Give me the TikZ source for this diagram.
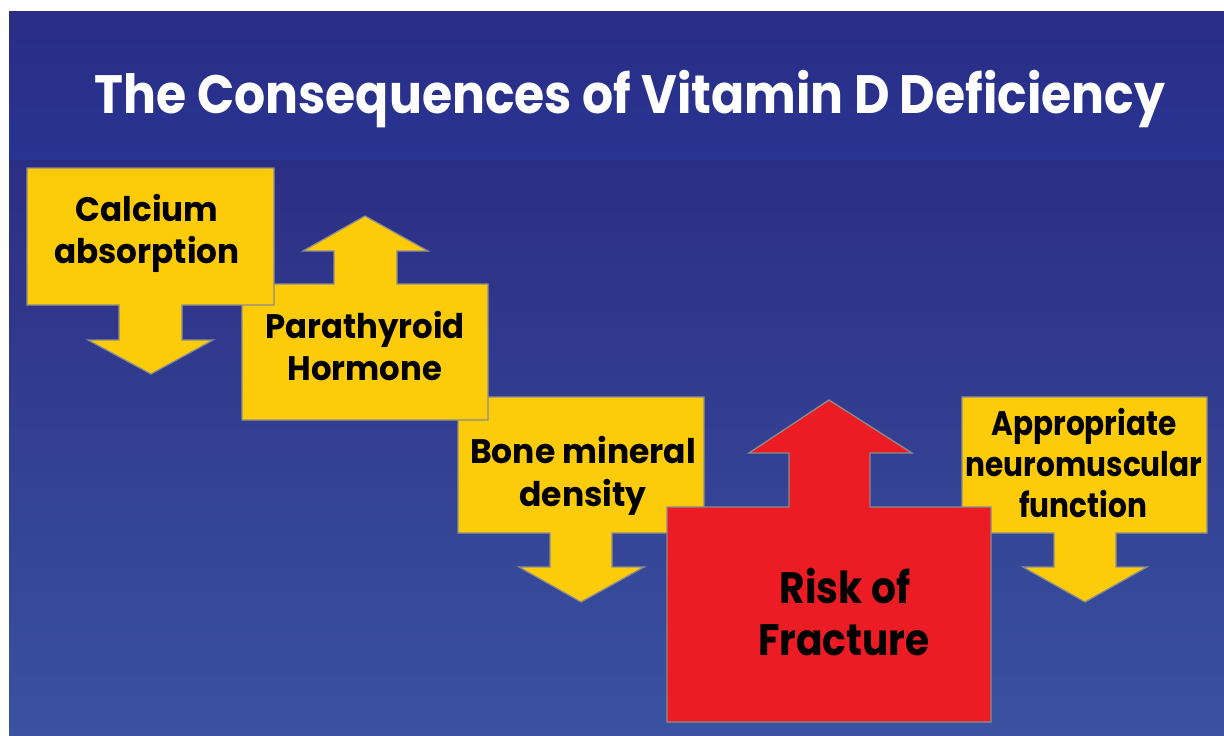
\documentclass[tikz,border=0pt]{standalone}
\usepackage{graphicx}
\usepackage{fontspec}
\newfontfamily\pop{Poppins}
\newcommand{\sxb}[2]{\scalebox{#1}[1]{#2}}
\definecolor{band}{RGB}{42,45,132}
\definecolor{bandlow}{RGB}{40,52,146}
\definecolor{bgtop}{RGB}{44,46,132}
\definecolor{bgbot}{RGB}{58,82,160}
\definecolor{boxyellow}{RGB}{252,203,10}
\definecolor{boxred}{RGB}{236,28,36}
\definecolor{edge}{RGB}{140,140,140}
\tikzset{
  ybox/.style={fill=boxyellow, draw=edge, line width=1.3pt, line join=miter},
  rbox/.style={fill=boxred, draw=edge, line width=1.3pt, line join=miter},
  lbl/.style={anchor=base, inner sep=0pt, font=\pop\bfseries\fontsize{34}{40}\selectfont, text=black},
  biglbl/.style={anchor=base, inner sep=0pt, font=\pop\bfseries\fontsize{44}{52}\selectfont, text=black},
}
\begin{document}
\begin{tikzpicture}[x=1pt,y=-1pt]
\useasboundingbox (0,0) rectangle (1224,736);
\fill[white] (0,0) rectangle (1224,736);
% title band and background
\shade[top color=band, bottom color=bandlow] (9,11) rectangle (1224,160);
\shade[top color=bgtop, bottom color=bgbot] (9,160) rectangle (1224,736);
\node[anchor=base, inner sep=0pt, text=white, font=\pop\bfseries\fontsize{54}{60}\selectfont] (title) at (630,113) {\sxb{0.905}{The Consequences of Vitamin D Deficiency}};
% Bone mineral density
\draw[ybox] (458,397) -- (704,397) -- (704,533) -- (612,533) -- (612,567) -- (644,567) -- (581,602) -- (519,567) -- (550,567) -- (550,533) -- (458,533) -- cycle;
% Parathyroid
\draw[ybox] (242,284) -- (334,284) -- (334,251) -- (303,251) -- (365,216) -- (428,251) -- (397,251) -- (397,284) -- (488,284) -- (488,420) -- (242,420) -- cycle;
% Calcium
\draw[ybox] (27,168) -- (274,168) -- (274,305) -- (182,305) -- (182,340) -- (213,340) -- (151,374) -- (88,340) -- (119,340) -- (119,305) -- (27,305) -- cycle;
% Appropriate
\draw[ybox] (962,397) -- (1207,397) -- (1207,533) -- (1116,533) -- (1116,567) -- (1147,567) -- (1085,602) -- (1023,567) -- (1054,567) -- (1054,533) -- (962,533) -- cycle;
% Risk of fracture
\draw[rbox] (667,507) -- (789,507) -- (789,453) -- (749,453) -- (829,400) -- (912,453) -- (870,453) -- (870,507) -- (991,507) -- (991,722) -- (667,722) -- cycle;
% labels
\node[lbl] (calc1) at (147,221) {\sxb{0.96}{Calcium}};
\node[lbl] (calc2) at (147,263) {\sxb{0.96}{absorption}};
\node[lbl] (pth1) at (365,338) {\sxb{0.95}{Parathyroid}};
\node[lbl] (pth2) at (365,380) {\sxb{0.95}{Hormone}};
\node[lbl] (bmd1) at (583,463) {\sxb{0.97}{Bone mineral}};
\node[lbl] (bmd2) at (583,506) {\sxb{0.97}{density}};
\node[lbl] (nm1) at (1084,435) {\sxb{0.87}{Appropriate}};
\node[lbl] (nm2) at (1084,476) {\sxb{0.87}{neuromuscular}};
\node[lbl] (nm3) at (1083,517) {\sxb{0.87}{function}};
\node[biglbl] (risk1) at (845,603) {\sxb{0.89}{Risk of}};
\node[biglbl] (risk2) at (844,655) {\sxb{0.89}{Fracture}};
\end{tikzpicture}
\end{document}
